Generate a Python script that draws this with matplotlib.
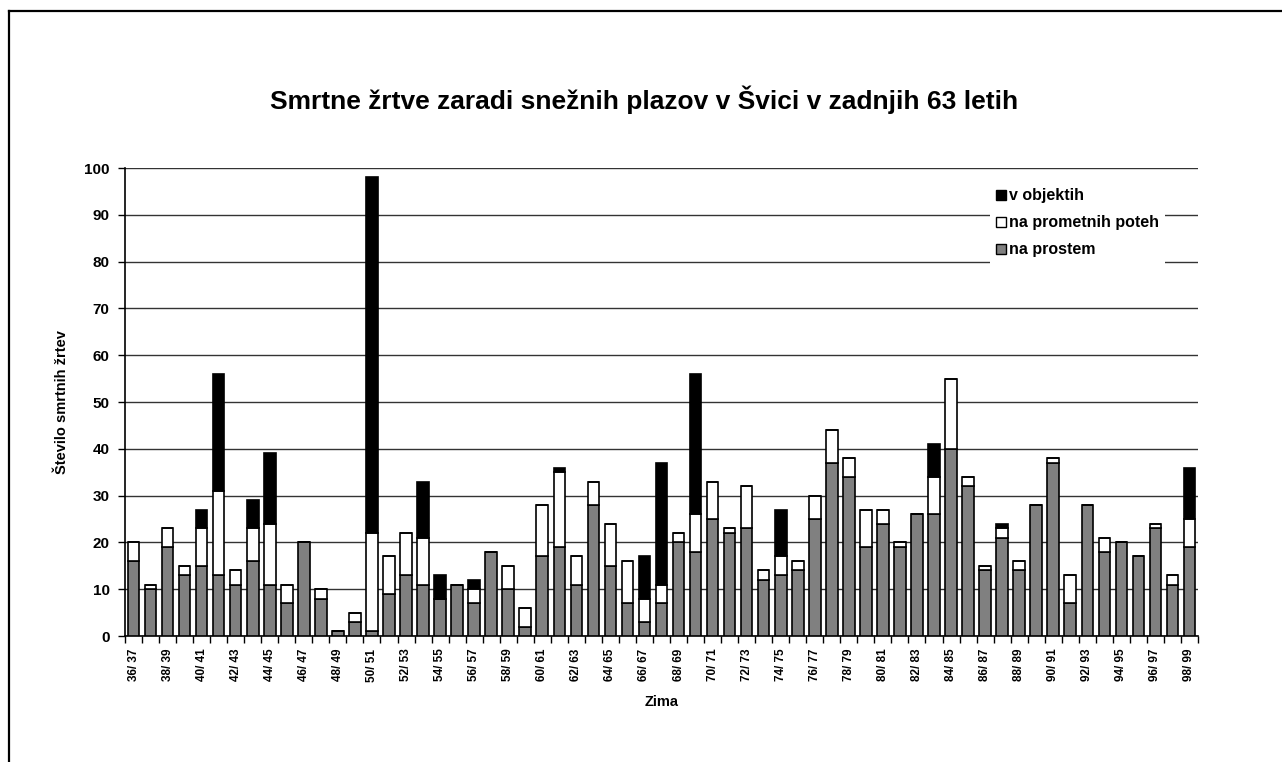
import matplotlib
matplotlib.use('Agg')
import matplotlib.pyplot as plt
import numpy as np
from matplotlib.patches import Patch
from matplotlib.lines import Line2D

plt.rcParams['font.family'] = ['Liberation Sans', 'DejaVu Sans']
plt.rcParams['font.weight'] = 'bold'

# zime 36/37 ... 98/99
zime = ['%02d/ %02d' % (y, y + 1) for y in range(36, 99)]

na_prostem = [16, 10, 19, 13, 15, 13, 11, 16, 11, 7, 20, 8, 1, 3, 1, 9, 13, 11, 8, 11,
              7, 18, 10, 2, 17, 19, 11, 28, 15, 7, 3, 7, 20, 18, 25, 22, 23, 12, 13, 14,
              25, 37, 34, 19, 24, 19, 26, 26, 40, 32, 14, 21, 14, 28, 37, 7, 28, 18, 20, 17,
              23, 11, 19]
na_poteh = [4, 1, 4, 2, 8, 18, 3, 7, 13, 4, 0, 2, 0, 2, 21, 8, 9, 10, 0, 0,
            3, 0, 5, 4, 11, 16, 6, 5, 9, 9, 5, 4, 2, 8, 8, 1, 9, 2, 4, 2,
            5, 7, 4, 8, 3, 1, 0, 8, 15, 2, 1, 2, 2, 0, 1, 6, 0, 3, 0, 0,
            1, 2, 6]
v_objektih = [0, 0, 0, 0, 4, 25, 0, 6, 15, 0, 0, 0, 0, 0, 76, 0, 0, 12, 5, 0,
              2, 0, 0, 0, 0, 1, 0, 0, 0, 0, 9, 26, 0, 30, 0, 0, 0, 0, 10, 0,
              0, 0, 0, 0, 0, 0, 0, 7, 0, 0, 0, 1, 0, 0, 0, 0, 0, 0, 0, 0,
              0, 0, 11]

W, H = 1282, 762
fig = plt.figure(figsize=(W / 100, H / 100), dpi=100)
ax = fig.add_axes([125 / W, 1 - 636 / H, 1073 / W, 468 / H])

x = np.arange(len(zime))
a = np.array(na_prostem)
b = np.array(na_poteh)
c = np.array(v_objektih)
bw = 0.68
ax.bar(x, a, bw, color='#808080', edgecolor='black', linewidth=1.2, zorder=3)
ax.bar(x, b, bw, bottom=a, color='white', edgecolor='black', linewidth=1.2, zorder=3)
ax.bar(x, c, bw, bottom=a + b, color='black', edgecolor='black', linewidth=1.2, zorder=3)

ax.set_xlim(-0.5, len(zime) - 0.5)
ax.set_ylim(0, 100)
ax.set_yticks(range(0, 101, 10))
ax.yaxis.grid(True, color='#333333', linewidth=1)
ax.set_axisbelow(True)

ax.set_xticks(x[::2])
ax.set_xticklabels(zime[::2], rotation=90, fontsize=8.5, fontweight='bold')
ax.set_xticks(np.arange(-0.5, len(zime), 1), minor=True)
ax.tick_params(axis='x', which='major', length=0, pad=9)
ax.tick_params(axis='x', which='minor', length=5, width=1, direction='out')
ax.tick_params(axis='y', length=5, width=1, direction='out', labelsize=11, pad=6)
for t in ax.get_yticklabels():
    t.set_fontweight('bold')

for s in ['right', 'top']:
    ax.spines[s].set_visible(False)
ax.spines['left'].set_linewidth(1.2)
ax.spines['bottom'].set_linewidth(1.2)

ax.set_ylabel('Število smrtnih žrtev', fontsize=10.5, fontweight='bold')
ax.yaxis.set_label_coords(-0.052, 0.5)
ax.set_xlabel('Zima', fontsize=10.5, fontweight='bold')
ax.xaxis.set_label_coords(0.5, -0.126)

handles = [Patch(facecolor='black', edgecolor='black'),
           Patch(facecolor='white', edgecolor='black'),
           Patch(facecolor='#808080', edgecolor='black')]
labels = ['v objektih', 'na prometnih poteh', 'na prostem']
leg = ax.legend(handles, labels, loc='upper left', bbox_to_anchor=(0.806, 0.97),
                frameon=True, fancybox=False, framealpha=1, edgecolor='none',
                prop={'size': 11.5, 'weight': 'bold'}, handlelength=0.6, handleheight=0.6,
                handletextpad=0.2, labelspacing=0.75, borderpad=0.4, borderaxespad=0)
leg.set_zorder(5)

fig.text(644 / W, 1 - 100 / H, 'Smrtne žrtve zaradi snežnih plazov v Švici v zadnjih 63 letih',
         ha='center', va='center', fontsize=19, fontweight='bold')

# okvir
fig.add_artist(Line2D([9 / W, 9 / W], [0, 1 - 11 / H], color='black', linewidth=1.6))
fig.add_artist(Line2D([9 / W, 1], [1 - 11 / H, 1 - 11 / H], color='black', linewidth=1.6))

fig.savefig('out.png', dpi=100)
